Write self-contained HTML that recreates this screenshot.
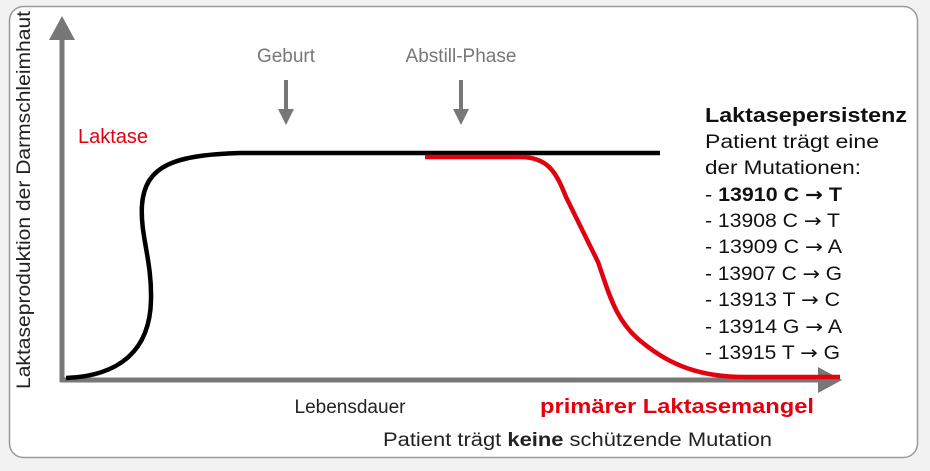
<!DOCTYPE html>
<html><head><meta charset="utf-8"><style>
body{margin:0;background:#f2f2f2;}
svg{display:block;font-family:"Liberation Sans Narrow","Liberation Sans",sans-serif;}
</style></head><body>
<svg width="930" height="471" viewBox="0 0 930 471">
<rect x="9.5" y="6.5" width="908" height="451" rx="14" fill="#fff" stroke="#999" stroke-width="1.5"/>
<line x1="62" y1="382" x2="62" y2="38" stroke="#777" stroke-width="5"/>
<polygon points="62,16 49,40 75,40" fill="#777"/>
<line x1="60" y1="380" x2="822" y2="380" stroke="#777" stroke-width="5"/>
<polygon points="842,380 818,367 818,393" fill="#777"/>
<path d="M66,378 C120,376 150,350 151,300 C152,260 140,235 142,205 C145,165 175,155 240,153 L660,153" fill="none" stroke="#000" stroke-width="4.5"/>
<path d="M425,157 L520,157 C548,157 556,172 566,197 L598,262 C608,290 615,322 643,343 C670,365 700,377 745,377 L840,377" fill="none" stroke="#e3000f" stroke-width="4.5"/>
<line x1="286" y1="80" x2="286" y2="112" stroke="#777" stroke-width="4"/>
<polygon points="286,125 278,109 294,109" fill="#777"/>
<line x1="461" y1="80" x2="461" y2="112" stroke="#777" stroke-width="4"/>
<polygon points="461,125 453,109 469,109" fill="#777"/>
<g font-size="19">
<text x="286" y="62" text-anchor="middle" fill="#777">Geburt</text>
<text x="461" y="62" text-anchor="middle" fill="#777">Abstill-Phase</text>
<text x="78" y="143" fill="#e3000f" font-size="20">Laktase</text>
<text transform="translate(30,200) rotate(-90)" text-anchor="middle" fill="#222" textLength="378" lengthAdjust="spacingAndGlyphs">Laktaseproduktion der Darmschleimhaut</text>
<text x="350" y="413" text-anchor="middle" fill="#222">Lebensdauer</text>
<text x="540" y="413" fill="#e3000f" font-weight="bold" font-size="20" textLength="274" lengthAdjust="spacingAndGlyphs">primärer Laktasemangel</text>
<text x="383" y="446" fill="#222" textLength="389" lengthAdjust="spacingAndGlyphs">Patient trägt <tspan font-weight="bold">keine</tspan> schützende Mutation</text>
<g fill="#111">
<text x="705" y="122" font-weight="bold" font-size="20" textLength="202" lengthAdjust="spacingAndGlyphs">Laktasepersistenz</text>
<text x="705" y="148" textLength="174" lengthAdjust="spacingAndGlyphs">Patient trägt eine</text>
<text x="705" y="174" textLength="156" lengthAdjust="spacingAndGlyphs">der Mutationen:</text>
<text x="705" y="201" textLength="137" lengthAdjust="spacingAndGlyphs">- <tspan font-weight="bold">13910 C <tspan font-family="DejaVu Sans">→</tspan> T</tspan></text>
<text x="705" y="227" textLength="135" lengthAdjust="spacingAndGlyphs">- 13908 C <tspan font-family="DejaVu Sans">→</tspan> T</text>
<text x="705" y="253" textLength="137" lengthAdjust="spacingAndGlyphs">- 13909 C <tspan font-family="DejaVu Sans">→</tspan> A</text>
<text x="705" y="280" textLength="137" lengthAdjust="spacingAndGlyphs">- 13907 C <tspan font-family="DejaVu Sans">→</tspan> G</text>
<text x="705" y="306" textLength="135" lengthAdjust="spacingAndGlyphs">- 13913 T <tspan font-family="DejaVu Sans">→</tspan> C</text>
<text x="705" y="333" textLength="137" lengthAdjust="spacingAndGlyphs">- 13914 G <tspan font-family="DejaVu Sans">→</tspan> A</text>
<text x="705" y="359" textLength="135" lengthAdjust="spacingAndGlyphs">- 13915 T <tspan font-family="DejaVu Sans">→</tspan> G</text>
</g>
</g>
</svg>
</body></html>
